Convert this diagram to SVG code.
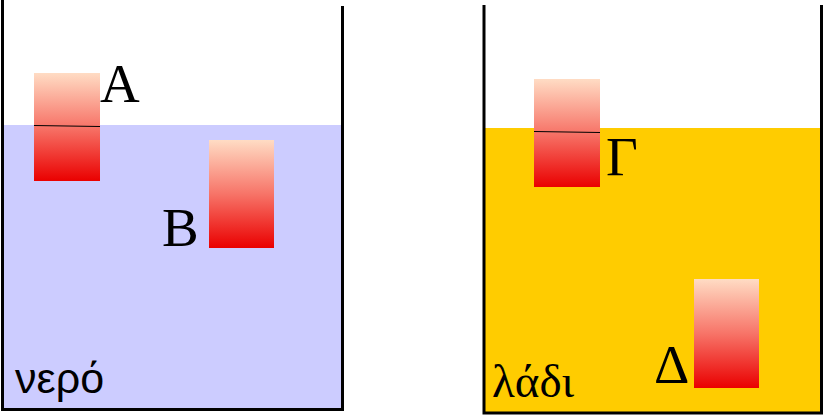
<svg xmlns="http://www.w3.org/2000/svg" width="825" height="416" viewBox="0 0 825 416">
<style>
.wall{fill:none;stroke:#000;stroke-width:3;stroke-linejoin:miter}
.blk{fill:url(#g)}
.lvl{stroke:#000;stroke-width:1.2}
.lbl{font-family:"Liberation Serif","DejaVu Serif",serif;font-size:55px;fill:#000}
.liq{fill:#000}
</style>
<defs>
<linearGradient id="g" x1="0" y1="0" x2="0" y2="1">
<stop offset="0" stop-color="#ffdcc4"/>
<stop offset="0.5" stop-color="#f77468"/>
<stop offset="1" stop-color="#ea0000"/>
</linearGradient>
</defs>
<rect width="825" height="416" fill="#fff"/>
<g id="water-container">
<rect x="3" y="125" width="339" height="284" fill="#ccccff"/>
<path class="wall" d="M2.5,0 V409.5 H342.5 V6"/>
<text class="liq" x="15" y="393" font-size="43" font-family="Liberation Sans, Arial, sans-serif">νερό</text>
</g>
<g id="oil-container">
<rect x="484" y="128" width="337" height="285" fill="#ffcc00"/>
<path class="wall" d="M484,5 V413 H821.5 V5"/>
<text class="liq" x="492" y="397" font-size="47" font-family="Liberation Serif, Times New Roman, serif">λάδι</text>
</g>
<g id="A">
<rect class="blk" x="34" y="73" width="66" height="108"/>
<line class="lvl" x1="34" y1="125.5" x2="100" y2="126.5"/>
<text class="lbl" x="100" y="102">A</text>
</g>
<g id="B">
<rect class="blk" x="209" y="140" width="65" height="108"/>
<text class="lbl" x="162" y="246">B</text>
</g>
<g id="Gamma">
<rect class="blk" x="534" y="79" width="66" height="108"/>
<line class="lvl" x1="534" y1="131.5" x2="600" y2="132.5"/>
<text class="lbl" x="606" y="175">Γ</text>
</g>
<g id="Delta">
<rect class="blk" x="694" y="279" width="65" height="109"/>
<text class="lbl" x="654" y="383">Δ</text>
</g>
<g id="connectors"/>
</svg>
